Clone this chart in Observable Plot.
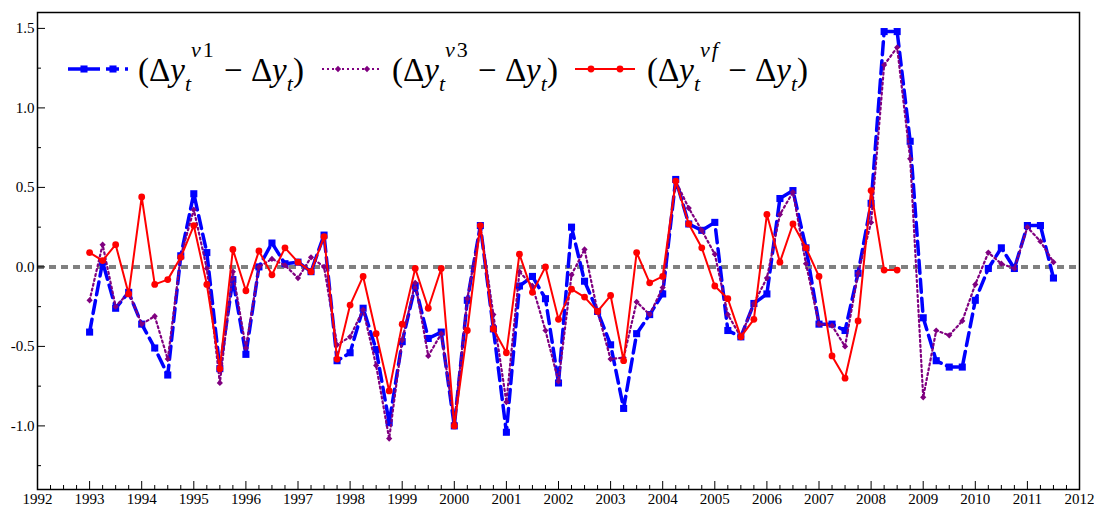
<!DOCTYPE html>
<html><head><meta charset="utf-8">
<script src="https://cdn.jsdelivr.net/npm/d3@7"></script>
<script src="https://cdn.jsdelivr.net/npm/@observablehq/plot@0.6"></script>
<style>
body{margin:0;background:#fff;} svg{display:block;}
#wrap{position:relative;width:1094px;height:507px;}
.lab{position:absolute;top:54px;font-family:'Liberation Serif';font-size:33px;line-height:33px;white-space:nowrap;color:#000;}
.sub{font-size:22px;line-height:0;position:relative;top:10px;font-style:italic;}
.sup{font-size:22px;line-height:0;position:relative;top:-24px;letter-spacing:2px;}
</style>
</head><body><div id="wrap"><div id="chart"></div></div>
<script>
// Quarterly observations starting 1993 Q1
const startYear = 1993;
const v1 = [
 -0.41, 0.03,-0.26,-0.16, -0.36,-0.51,-0.68, 0.07, 0.46, 0.09,-0.64,-0.08, -0.55, 0.00, 0.15, 0.02,
  0.03,-0.03, 0.20,-0.59, -0.54,-0.26,-0.52,-0.98, -0.47,-0.12,-0.45,-0.41, -1.00,-0.21, 0.26,-0.39,
 -1.04,-0.12,-0.06,-0.20, -0.73, 0.25,-0.09,-0.28, -0.49,-0.89,-0.42,-0.30, -0.17, 0.55, 0.27, 0.23,
  0.28,-0.40,-0.44,-0.23, -0.17, 0.43, 0.48, 0.12, -0.36,-0.36,-0.40,-0.04,  0.40, 1.48, 1.48, 0.79,
 -0.32,-0.59,-0.63,-0.63, -0.21,-0.01, 0.12,-0.01,  0.26, 0.26,-0.07];
const v3 = [
 -0.21, 0.14,-0.25,-0.16, -0.36,-0.31,-0.58, 0.07, 0.36,-0.01,-0.73,-0.03, -0.51, 0.00, 0.05, 0.01,
 -0.07, 0.06, 0.00,-0.49, -0.44,-0.27,-0.62,-1.08, -0.46,-0.10,-0.56,-0.42, -0.98,-0.20, 0.26,-0.30,
 -0.85,-0.03,-0.12,-0.40, -0.72,-0.05, 0.11,-0.28, -0.58,-0.57,-0.22,-0.30, -0.13, 0.54, 0.37, 0.23,
  0.08,-0.30,-0.44,-0.23, -0.07, 0.33, 0.47, 0.02, -0.36,-0.37,-0.50,-0.04,  0.28, 1.27, 1.38, 0.68,
 -0.82,-0.40,-0.43,-0.34, -0.11, 0.09, 0.02,-0.01,  0.25, 0.16, 0.03];
const vf = [
  0.09, 0.04, 0.14,-0.17,  0.44,-0.11,-0.08, 0.06,  0.26,-0.11,-0.64, 0.11, -0.15, 0.10,-0.05, 0.12,
  0.03,-0.03, 0.19,-0.58, -0.24,-0.06,-0.42,-0.78, -0.36,-0.01,-0.26,-0.01, -1.00,-0.40, 0.26,-0.39,
 -0.54, 0.08,-0.16, 0.00, -0.33,-0.14,-0.19,-0.28, -0.18,-0.59, 0.09,-0.10, -0.06, 0.54, 0.27, 0.12,
 -0.12,-0.20,-0.44,-0.33,  0.33, 0.03, 0.27, 0.12, -0.06,-0.56,-0.70,-0.34,  0.48,-0.02,-0.02];
const xMajorTicks = [1992,1993,1994,1995,1996,1997,1998,1999,2000,2001,2002,2003,2004,2005,2006,2007,2008,2009,2010,2011,2012];
const yMajorTicks = [-1.0,-0.5,0.0,0.5,1.0,1.5];
const yMinorTicks = [-1.25,-0.75,-0.25,0.25,0.75,1.25];
const seriesSup = [["v","1"],["v","3"],["v","f"]];
const seriesColors = ["#0000ff","#800080","#ff0000"];

const toRows = arr => arr.map((value, i) => ({date: startYear + i / 4, value}));
const d1 = toRows(v1), d3r = toRows(v3), df = toRows(vf);
const xMinorTicks = [];
for (let k = 0; k < xMajorTicks.length - 1; k++) for (let q = 1; q < 4; q++) xMinorTicks.push(xMajorTicks[k] + q / 4);

const FONT = "Liberation Serif";
const chart = Plot.plot({
  width: 1094, height: 507,
  marginLeft: 37, marginRight: 15, marginTop: 12, marginBottom: 18,
  style: {fontFamily: FONT, fontSize: "15px"},
  x: {domain: [1992, 2012], label: null},
  y: {domain: [-1.4, 1.6], label: null},
  marks: [
    Plot.ruleY([0], {stroke: "#808080", strokeWidth: 4, strokeDasharray: "7,5"}),
    Plot.line(d1, {x: "date", y: "value", stroke: seriesColors[0], strokeWidth: 3.5, strokeDasharray: "13,6"}),
    Plot.dot(d1, {x: "date", y: "value", symbol: "square", r: 4, fill: seriesColors[0]}),
    Plot.line(d3r, {x: "date", y: "value", stroke: seriesColors[1], strokeWidth: 2.2, strokeDasharray: "2,3"}),
    Plot.dot(d3r, {x: "date", y: "value", symbol: "diamond2", r: 2.8, fill: seriesColors[1]}),
    Plot.line(df, {x: "date", y: "value", stroke: seriesColors[2], strokeWidth: 2}),
    Plot.dot(df, {x: "date", y: "value", r: 3.4, fill: seriesColors[2]}),
    Plot.axisX({ticks: xMajorTicks, tickSize: -8, tickPadding: 12, tickFormat: d => String(d), label: null, fontFamily: FONT, fontSize: 15}),
    Plot.axisX({ticks: xMinorTicks, tickSize: -4, tickFormat: () => "", label: null}),
    Plot.axisY({ticks: yMajorTicks, tickSize: -8, tickPadding: 11, tickFormat: d => d.toFixed(1), label: null, fontFamily: FONT, fontSize: 15}),
    Plot.axisY({ticks: yMinorTicks, tickSize: -4, tickFormat: () => "", label: null}),
    Plot.frame({stroke: "black", strokeWidth: 1.5})
  ]
});
document.getElementById("chart").appendChild(chart);

// Legend line samples (SVG) inside the plot
const svg = d3.select(chart);
const lg = svg.append("g");
const legendLineX = [68, 322, 575];
const legendTextX = [138, 392, 647];
const ly = 69;
function sample(i) {
  const x0 = legendLineX[i], x1 = x0 + 60;
  const line = lg.append("line").attr("x1", x0).attr("x2", x1).attr("y1", ly).attr("y2", ly).attr("stroke", seriesColors[i]);
  const mk = [x0 + 16, x0 + 45];
  if (i === 0) {
    line.attr("stroke-width", 3.5).attr("stroke-dasharray", "13,6");
    mk.forEach(x => lg.append("path").attr("d", d3.symbol(d3.symbolSquare, 50)()).attr("transform", `translate(${x},${ly})`).attr("fill", seriesColors[0]));
  } else if (i === 1) {
    line.attr("stroke-width", 2.2).attr("stroke-dasharray", "2,3");
    mk.forEach(x => lg.append("path").attr("d", d3.symbol(d3.symbolDiamond2, 25)()).attr("transform", `translate(${x},${ly})`).attr("fill", seriesColors[1]));
  } else {
    line.attr("stroke-width", 2);
    mk.forEach(x => lg.append("circle").attr("cx", x).attr("cy", ly).attr("r", 3.4).attr("fill", seriesColors[2]));
  }
}
// Legend labels (HTML text overlaid on the plot)
const wrap = d3.select("#wrap");
function label(i) {
  const [a, b] = seriesSup[i];
  const supB = b === "f" ? `<i>${b}</i>` : b;
  wrap.append("div").attr("class", "lab").style("left", legendTextX[i] + "px")
    .html(`(\u0394<i>y</i><span class="sub">t</span><span class="sup"><i>${a}</i>${supB}</span> \u2212 \u0394<i>y</i><span class="sub">t</span>)`);
}
[0, 1, 2].forEach(i => { sample(i); label(i); });
</script></body></html>
